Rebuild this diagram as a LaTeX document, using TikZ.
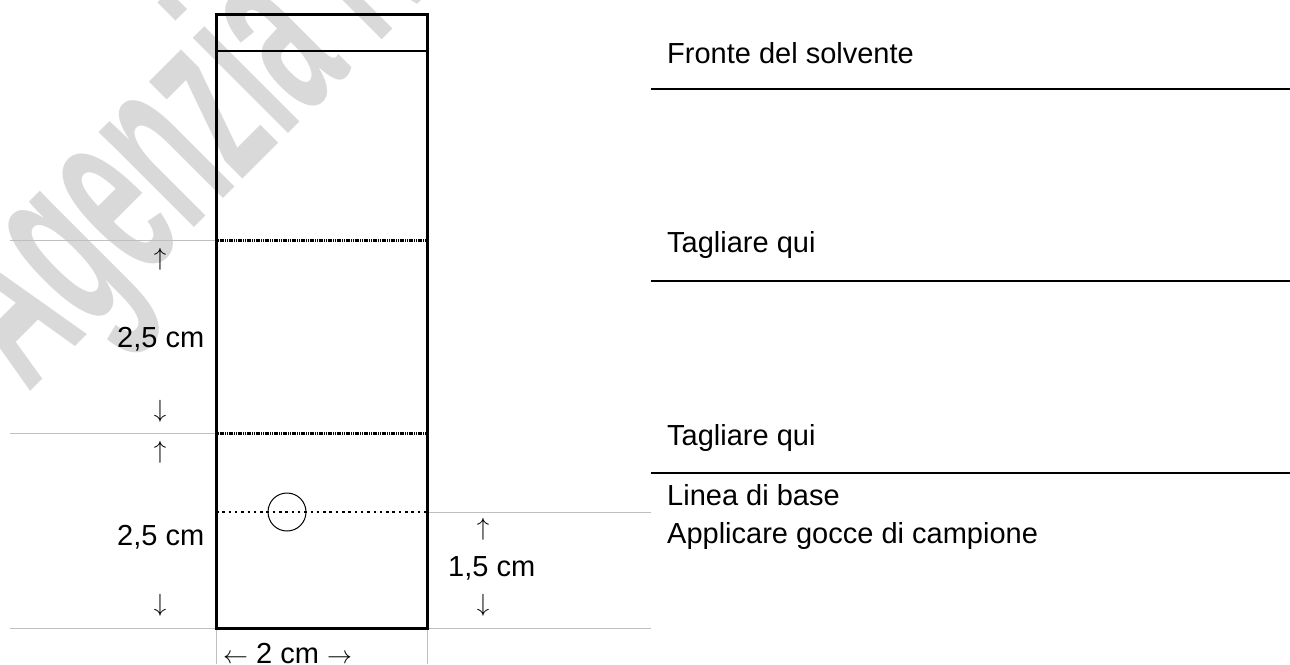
\documentclass[tikz,border=0pt]{standalone}
\usepackage{fontspec}
\setmainfont{Liberation Sans}
\usetikzlibrary{positioning}

\begin{document}
\begin{tikzpicture}[x=1pt, y=-1pt, font=\fontsize{29}{34}\selectfont,
	guide/.style={draw=gray!50, line width=1pt},
	cutline/.style={line width=3pt, dash pattern=on 1.2pt off 0.6pt},
	txt/.style={anchor = base west, inner sep=0pt},
	arr/.style={anchor = center, inner sep=0pt}]
\useasboundingbox (0,0) rectangle (1290,664);

%watermark
\begin{scope}
\clip (0,0) rectangle (1290,664);
\node[rotate=45, xscale=0.47, anchor = base west, inner sep=0pt, text=black!15, font=\bfseries\fontsize{255}{255}\selectfont] (wm) at (28,394) {Agenzia N};
\end{scope}

%guides
\draw[guide] (10,240)--(216,240);
\draw[guide] (10,433)--(216,433);
\draw[guide] (427,512)--(651,512);
\draw[guide] (10,628)--(651,628);
\draw[guide] (216,628)--(216,664);
\draw[guide] (427,628)--(427,664);

%strip
\draw[line width=1.3pt] (216,51)--(427,51);
\foreach \y in {240,433}
	\draw[cutline] (216,\y)--(427,\y);
\draw[line width=1.3pt, dash pattern=on 2.5pt off 3.8pt] (216,512)--(427,512);
\node[circle, draw, line width=1pt, minimum size=38pt, inner sep=0pt] (spot) at (287,512) {};
\draw[line width=3pt] (216,14) rectangle (427,628);

%lines on the right
\foreach \y in {89,281,473}
	\draw[line width=1.5pt] (651,\y)--(1290,\y);

\node[txt] (front) at (667,63) {Fronte del solvente};
\node[txt] (cutA) at (667,252) {Tagliare qui};
\node[txt] (cutB) at (667,445) {Tagliare qui};
\node[txt] (base) at (667,505) {Linea di base};
\node[txt] (drops) at (667,543) {Applicare gocce di campione};

%measures
\node[arr] (upA) at (160,259) {$\uparrow$};
\node[txt] (lenA) at (117,347) {2,5 cm};
\node[arr] (downA) at (160,411) {$\downarrow$};
\node[arr] (upB) at (160,452) {$\uparrow$};
\node[txt] (lenB) at (117,545) {2,5 cm};
\node[arr] (downB) at (160,605) {$\downarrow$};
\node[arr] (upC) at (483,529) {$\uparrow$};
\node[txt] (lenC) at (448,576) {1,5 cm};
\node[arr] (downC) at (483,605) {$\downarrow$};
\node[txt] (width) at (223,663) {$\leftarrow$ 2 cm $\rightarrow$};
\end{tikzpicture}
\end{document}
